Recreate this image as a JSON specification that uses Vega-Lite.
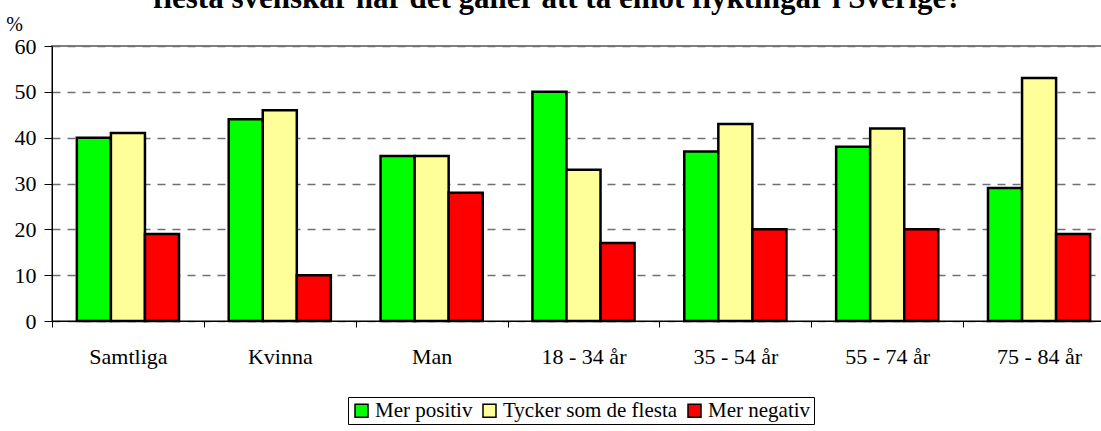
{
  "$schema": "https://vega.github.io/schema/vega-lite/v6.json",
  "width": 1063,
  "height": 275,
  "autosize": {"type": "none"},
  "padding": {"left": 52, "top": 46, "right": -14, "bottom": 110},
  "background": "white",
  "config": {
    "font": "Liberation Serif",
    "view": {"stroke": "#808080", "strokeWidth": 2}
  },
  "title": {
    "text": "flesta svenskar när det gäller att ta emot flyktingar i Sverige?",
    "font": "Liberation Serif",
    "fontSize": 31,
    "fontWeight": "bold",
    "color": "black",
    "anchor": "middle",
    "offset": 2,
    "dy": 3,
    "dx": -26
  },
  "data": {
    "values": [
      {"grupp": "Samtliga", "svar": "Mer positiv", "procent": 40},
      {"grupp": "Samtliga", "svar": "Tycker som de flesta", "procent": 41},
      {"grupp": "Samtliga", "svar": "Mer negativ", "procent": 19},
      {"grupp": "Kvinna", "svar": "Mer positiv", "procent": 44},
      {"grupp": "Kvinna", "svar": "Tycker som de flesta", "procent": 46},
      {"grupp": "Kvinna", "svar": "Mer negativ", "procent": 10},
      {"grupp": "Man", "svar": "Mer positiv", "procent": 36},
      {"grupp": "Man", "svar": "Tycker som de flesta", "procent": 36},
      {"grupp": "Man", "svar": "Mer negativ", "procent": 28},
      {"grupp": "18 - 34 år", "svar": "Mer positiv", "procent": 50},
      {"grupp": "18 - 34 år", "svar": "Tycker som de flesta", "procent": 33},
      {"grupp": "18 - 34 år", "svar": "Mer negativ", "procent": 17},
      {"grupp": "35 - 54 år", "svar": "Mer positiv", "procent": 37},
      {"grupp": "35 - 54 år", "svar": "Tycker som de flesta", "procent": 43},
      {"grupp": "35 - 54 år", "svar": "Mer negativ", "procent": 20},
      {"grupp": "55 - 74 år", "svar": "Mer positiv", "procent": 38},
      {"grupp": "55 - 74 år", "svar": "Tycker som de flesta", "procent": 42},
      {"grupp": "55 - 74 år", "svar": "Mer negativ", "procent": 20},
      {"grupp": "75 - 84 år", "svar": "Mer positiv", "procent": 29},
      {"grupp": "75 - 84 år", "svar": "Tycker som de flesta", "procent": 53},
      {"grupp": "75 - 84 år", "svar": "Mer negativ", "procent": 19}
    ]
  },
  "mark": {"type": "bar", "stroke": "black", "strokeWidth": 2.5},
  "encoding": {
    "x": {
      "field": "grupp",
      "type": "nominal",
      "sort": ["Samtliga", "Kvinna", "Man", "18 - 34 år", "35 - 54 år", "55 - 74 år", "75 - 84 år"],
      "scale": {"paddingInner": 0, "paddingOuter": 0},
      "axis": {
        "title": null,
        "labelAngle": 0,
        "labelFont": "Liberation Serif",
        "labelFontSize": 22,
        "labelColor": "black",
        "tickBand": "extent",
        "tickSize": 6,
        "tickColor": "black",
        "domainColor": "black",
        "labelPadding": 19,
        "grid": false
      }
    },
    "xOffset": {
      "field": "svar",
      "type": "nominal",
      "sort": ["Mer positiv", "Tycker som de flesta", "Mer negativ"],
      "scale": {"paddingInner": 0, "paddingOuter": 0.73}
    },
    "y": {
      "field": "procent",
      "type": "quantitative",
      "scale": {"domain": [0, 60]},
      "axis": {
        "values": [0, 10, 20, 30, 40, 50, 60],
        "title": "%",
        "titleFont": "Liberation Serif",
        "titleAngle": 0,
        "titleX": -38,
        "titleY": -16,
        "titleAlign": "center",
        "titleBaseline": "alphabetic",
        "titleFontWeight": "normal",
        "titleFontSize": 20,
        "titleColor": "black",
        "labelFont": "Liberation Serif",
        "labelFontSize": 22,
        "labelColor": "black",
        "labelPadding": 8,
        "tickSize": 8,
        "tickColor": "black",
        "domainColor": "black",
        "gridColor": "#707070",
        "gridDash": [8, 7],
        "gridWidth": 1.5
      }
    },
    "color": {
      "field": "svar",
      "type": "nominal",
      "sort": ["Mer positiv", "Tycker som de flesta", "Mer negativ"],
      "scale": {
        "domain": ["Mer positiv", "Tycker som de flesta", "Mer negativ"],
        "range": ["#00ff00", "#ffff99", "#ff0000"]
      },
      "legend": {
        "title": null,
        "orient": "none",
        "legendX": 296,
        "legendY": 351,
        "direction": "horizontal",
        "strokeColor": "black",
        "fillColor": "white",
        "padding": 3,
        "symbolType": "square",
        "symbolSize": 169,
        "symbolStrokeColor": "black",
        "symbolStrokeWidth": 1.5,
        "symbolOpacity": 1,
        "labelFont": "Liberation Serif",
        "labelFontSize": 21,
        "labelLimit": 400,
        "labelColor": "black",
        "labelOffset": 3,
        "columnPadding": 6
      }
    }
  }
}
